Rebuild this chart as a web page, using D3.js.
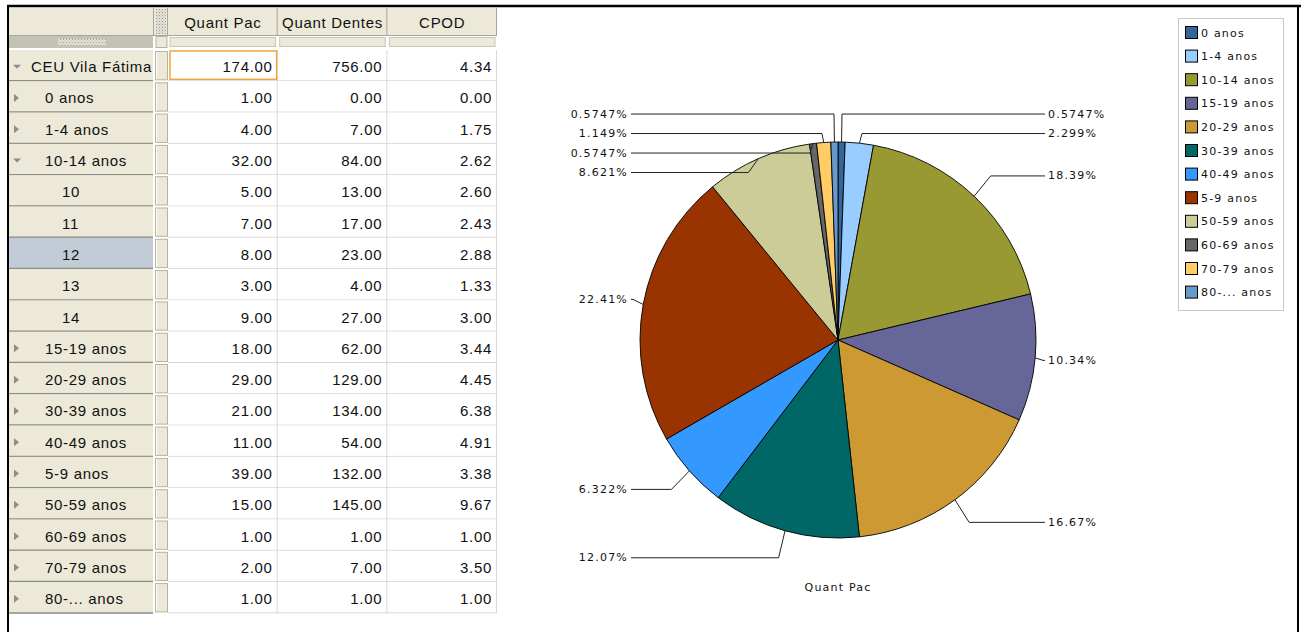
<!DOCTYPE html>
<html>
<head>
<meta charset="utf-8">
<script src="https://cdn.jsdelivr.net/npm/d3@7"></script>
<style>
body { margin: 0; background: #fff; }
svg text { font-family: "Liberation Sans", Arial, sans-serif; }
.tbl text { font-size: 15px; letter-spacing: 0.7px; fill: #111; }
.chart text { font-family: "DejaVu Sans", sans-serif; font-size: 11px; letter-spacing: 1.2px; fill: #111; }
</style>
</head>
<body>
<svg id="page" width="1301" height="632"></svg>
<script>
// table data
var rowLabels = ["CEU Vila Fátima", "0 anos", "1-4 anos", "10-14 anos", "10", "11", "12", "13", "14",
    "15-19 anos", "20-29 anos", "30-39 anos", "40-49 anos", "5-9 anos", "50-59 anos",
    "60-69 anos", "70-79 anos", "80-... anos"];
var rowLevels = [0, 1, 1, 1, 2, 2, 2, 2, 2, 1, 1, 1, 1, 1, 1, 1, 1, 1];
var rowExpanded = [true, false, false, true, false, false, false, false, false,
    false, false, false, false, false, false, false, false, false];
var quantPac    = [174, 1, 4, 32, 5, 7, 8, 3, 9, 18, 29, 21, 11, 39, 15, 1, 2, 1];
var quantDentes = [756, 0, 7, 84, 13, 17, 23, 4, 27, 62, 129, 134, 54, 132, 145, 1, 7, 1];
var cpod        = [4.34, 0.00, 1.75, 2.62, 2.60, 2.43, 2.88, 1.33, 3.00, 3.44, 4.45, 6.38, 4.91, 3.38, 9.67, 1.00, 3.50, 1.00];
var columns = ["Quant Pac", "Quant Dentes", "CPOD"];
var selectedRow = 6;

// pie data
var ageGroups = ["0 anos", "1-4 anos", "10-14 anos", "15-19 anos", "20-29 anos", "30-39 anos",
    "40-49 anos", "5-9 anos", "50-59 anos", "60-69 anos", "70-79 anos", "80-... anos"];
var pacByGroup = [1, 4, 32, 18, 29, 21, 11, 39, 15, 1, 2, 1];
var groupColors = ["#336699", "#99ccff", "#999933", "#666699", "#cc9933", "#006666",
    "#3399ff", "#993300", "#cccc99", "#666666", "#ffcc66", "#6699cc"];
var pieTitle = "Quant Pac";

var svg = d3.select("#page");

// patterns for the grip textures
var defs = svg.append("defs");
var pat = defs.append("pattern").attr("id", "dots")
    .attr("width", 3).attr("height", 3).attr("patternUnits", "userSpaceOnUse");
pat.append("rect").attr("width", 3).attr("height", 3).attr("fill", "#e4e2d6");
pat.append("rect").attr("width", 1).attr("height", 1).attr("fill", "#9a9a90");
pat.append("rect").attr("x", 1.5).attr("y", 1.5).attr("width", 1).attr("height", 1).attr("fill", "#b8b8b0");

// ---------- table ----------
var y = d3.scaleBand().domain(d3.range(rowLabels.length)).range([50, 613.4]);
var x = d3.scaleBand().domain(columns).range([168, 497]);
var fmt = d3.format(".2f");
var tbl = svg.append("g").attr("class", "tbl");

// header
tbl.append("rect").attr("x", 9).attr("y", 8).attr("width", 488).attr("height", 27).attr("fill", "#ece9d8");
tbl.append("rect").attr("x", 156).attr("y", 9).attr("width", 10).attr("height", 25).attr("fill", "url(#dots)");
tbl.append("line").attr("x1", 9).attr("x2", 497).attr("y1", 35.5).attr("y2", 35.5).attr("stroke", "#a8a698");
[153.5, 167.5].concat(columns.map(function(c){ return x(c) + x.bandwidth() - 0.5; })).forEach(function(xx){
    tbl.append("line").attr("x1", xx).attr("x2", xx).attr("y1", 8).attr("y2", 35).attr("stroke", "#a8a698");
});
tbl.selectAll(".hd").data(columns).enter().append("text")
    .attr("x", function(d){ return x(d) + x.bandwidth() / 2; })
    .attr("y", 22).attr("text-anchor", "middle").attr("dominant-baseline", "central")
    .text(function(d){ return d; });

// sub header row
tbl.append("rect").attr("x", 9).attr("y", 36).attr("width", 144).attr("height", 12).attr("fill", "#c3c2b6");
tbl.append("rect").attr("x", 58).attr("y", 39).attr("width", 48).attr("height", 6).attr("fill", "url(#dots)");
tbl.append("rect").attr("x", 156).attr("y", 36.5).attr("width", 11).attr("height", 11)
    .attr("fill", "#ece9d8").attr("stroke", "#b4b2a6");
tbl.selectAll(".sh").data(columns).enter().append("rect")
    .attr("x", function(d){ return x(d) + 2; }).attr("y", 37.5)
    .attr("width", x.bandwidth() - 4).attr("height", 9)
    .attr("fill", "#ece9d8").attr("stroke", "#c8c6b8");

// rows
var rows = tbl.selectAll(".row").data(rowLabels).enter().append("g")
    .attr("transform", function(d, i){ return "translate(0," + y(i) + ")"; });
var bh = y.bandwidth();

rows.append("rect").attr("x", 9).attr("width", 144).attr("height", bh)
    .attr("fill", function(d, i){ return i === selectedRow ? "#c2ccd6" : "#ece9d8"; });
rows.append("line").attr("x1", 9).attr("x2", 153).attr("y1", bh - 0.5).attr("y2", bh - 0.5)
    .attr("stroke", "#8e8e88").attr("stroke-width", 1.5);
rows.append("rect").attr("x", 155.5).attr("y", 1.5).attr("width", 12).attr("height", bh - 3)
    .attr("fill", "#ece9d8").attr("stroke", "#b4b2a6");
rows.append("line").attr("x1", 156.5).attr("x2", 156.5).attr("y1", 2).attr("y2", bh - 2).attr("stroke", "#fff");
rows.append("rect").attr("x", 168).attr("width", 329).attr("height", bh).attr("fill", "#fff");
rows.append("line").attr("x1", 168).attr("x2", 497).attr("y1", bh - 0.5).attr("y2", bh - 0.5).attr("stroke", "#d8d8d8");
columns.forEach(function(c){
    rows.append("line").attr("x1", x(c) + x.bandwidth() - 0.5).attr("x2", x(c) + x.bandwidth() - 0.5)
        .attr("y1", 0).attr("y2", bh).attr("stroke", "#d8d8d8");
});

// expand arrows
rows.filter(function(d, i){ return rowLevels[i] < 2; }).append("path")
    .attr("d", function(d){
        var i = rowLabels.indexOf(d), c = bh / 2 + 1;
        return rowExpanded[i] ? "M13," + (c - 2) + "L21," + (c - 2) + "L17," + (c + 2) + "Z"
                              : "M14," + (c - 4) + "L19," + c + "L14," + (c + 4) + "Z";
    })
    .attr("fill", "#8c8c8c");

rows.append("text")
    .attr("x", function(d, i){ return [31, 45, 62][rowLevels[i]]; })
    .attr("y", bh / 2 + 1).attr("dominant-baseline", "central")
    .text(function(d){ return d; });

var colValues = [quantPac, quantDentes, cpod];
columns.forEach(function(c, k){
    rows.append("text")
        .attr("x", x(c) + x.bandwidth() - 5).attr("y", bh / 2 + 1)
        .attr("text-anchor", "end").attr("dominant-baseline", "central")
        .text(function(d, i){ return fmt(colValues[k][i]); });
});
rows.filter(function(d, i){ return i === 0; }).append("rect")
    .attr("x", x(columns[0]) + 2).attr("y", 1).attr("width", x.bandwidth() - 3).attr("height", bh - 3)
    .attr("fill", "none").attr("stroke", "#f0a43c").attr("stroke-width", 1.5);

// ---------- pie ----------
var cx = 838, cy = 340, r = 198;
var total = d3.sum(pacByGroup);
var pct = d3.format(".4r");
var chart = svg.append("g").attr("class", "chart");
var pg = chart.append("g").attr("transform", "translate(" + cx + "," + cy + ")");
var arcs = d3.pie().sort(null).value(function(d){ return d; })(pacByGroup);
var arc = d3.arc().innerRadius(0).outerRadius(r);
var edgeArc = d3.arc().innerRadius(r).outerRadius(r);

pg.selectAll(".slice").data(arcs).enter().append("path")
    .attr("d", arc)
    .attr("fill", function(d, i){ return groupColors[i]; })
    .attr("stroke", "#000").attr("stroke-width", 0.9).attr("stroke-linejoin", "round");

// label layout: push overlapping labels apart on each side
arcs.forEach(function(a, i){
    a.mid = (a.startAngle + a.endAngle) / 2;
    a.side = a.mid < Math.PI ? 1 : -1;
    a.ny = -(r + 28) * Math.cos(a.mid);
});
[1, -1].forEach(function(s){
    var last = -1e9;
    arcs.filter(function(a){ return a.side === s; })
        .sort(function(a, b){ return a.ny - b.ny; })
        .forEach(function(a){ a.ly = Math.max(a.ny, last + 19.5); last = a.ly; });
});

var lineEnd = 207;
pg.selectAll(".leader").data(arcs).enter().append("polyline")
    .attr("points", function(a){
        var e = edgeArc.centroid(a);
        var ex = (r + 24) * Math.sin(a.mid);
        ex = a.side > 0 ? Math.min(ex, lineEnd - 2) : Math.max(ex, -lineEnd + 2);
        return [[a.side * lineEnd, a.ly], [ex, a.ly], e].map(function(p){ return p.join(","); }).join(" ");
    })
    .attr("fill", "none").attr("stroke", "#222").attr("stroke-width", 1);

pg.selectAll(".lbl").data(arcs).enter().append("text")
    .attr("x", function(a){ return a.side * (lineEnd + 3); })
    .attr("y", function(a){ return a.ly; })
    .attr("dominant-baseline", "central")
    .attr("text-anchor", function(a){ return a.side > 0 ? "start" : "end"; })
    .text(function(a){ return pct(a.value / total * 100) + "%"; });

chart.append("text").attr("x", cx).attr("y", 587)
    .attr("text-anchor", "middle").attr("dominant-baseline", "central")
    .text(pieTitle);

// legend
var ly = d3.scaleBand().domain(ageGroups).range([21.2, 304.4]);
chart.append("rect").attr("x", 1178.5).attr("y", 18.5).attr("width", 105).attr("height", 292)
    .attr("fill", "#fff").attr("stroke", "#c8c8c8");
var li = chart.selectAll(".leg").data(ageGroups).enter().append("g")
    .attr("transform", function(d){ return "translate(1185," + (ly(d) + ly.bandwidth() / 2) + ")"; });
li.append("rect").attr("x", 0.5).attr("y", -6.5).attr("width", 12).attr("height", 12)
    .attr("fill", function(d, i){ return groupColors[i]; }).attr("stroke", "#000");
li.append("text").attr("x", 16).attr("y", 0).attr("dominant-baseline", "central")
    .text(function(d){ return d; });

// frame
svg.append("line").attr("x1", 7).attr("x2", 1301).attr("y1", 6).attr("y2", 6).attr("stroke", "#000").attr("stroke-width", 2.5);
svg.append("line").attr("x1", 8).attr("x2", 8).attr("y1", 5).attr("y2", 632).attr("stroke", "#000").attr("stroke-width", 2);
svg.append("line").attr("x1", 1298).attr("x2", 1298).attr("y1", 5).attr("y2", 632).attr("stroke", "#000").attr("stroke-width", 2);
</script>
</body>
</html>
